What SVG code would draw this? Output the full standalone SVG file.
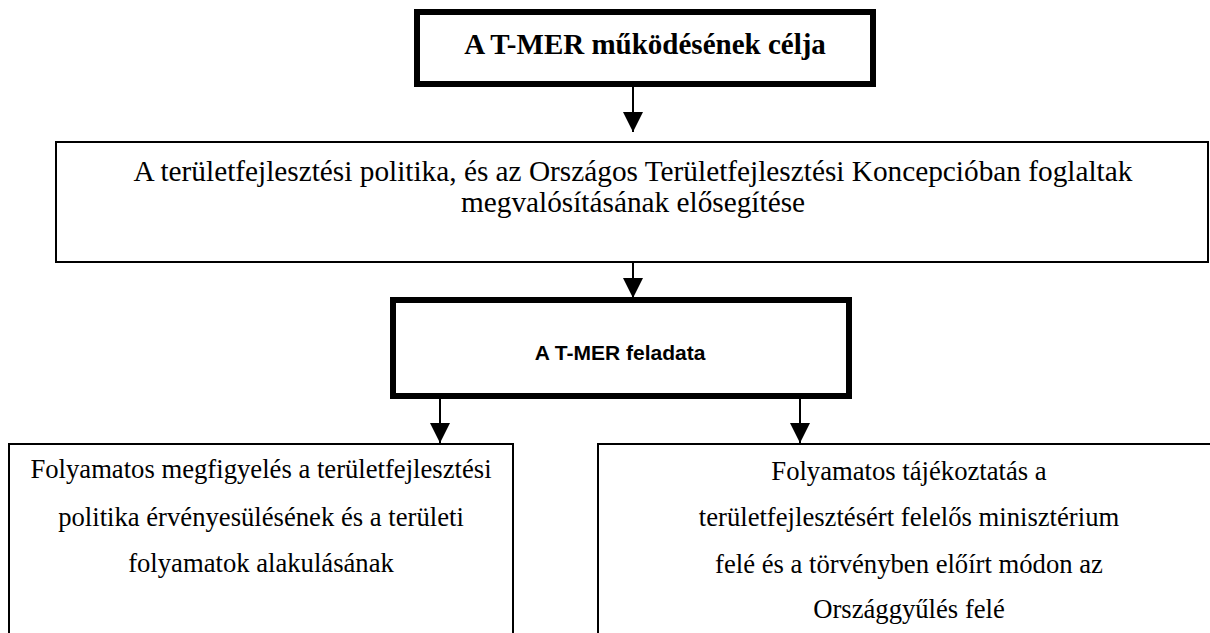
<svg xmlns="http://www.w3.org/2000/svg" width="1210" height="633" viewBox="0 0 1210 633">
<defs>
<style>
.thick{fill:#fff;stroke:#000;stroke-width:6}
.thin{fill:#fff;stroke:#000;stroke-width:2}
.tr{font-family:"Liberation Serif","Times New Roman",serif;fill:#000;text-anchor:middle}
.ar{font-family:"Liberation Sans",Arial,sans-serif;fill:#000;text-anchor:middle;font-weight:bold}
.conn line{stroke:#000;stroke-width:2}
</style>
<marker id="ah" viewBox="0 0 20 20" refX="20" refY="10" markerWidth="20" markerHeight="20" markerUnits="userSpaceOnUse" orient="auto">
<path d="M0,0 L20,10 L0,20 Z" fill="#000"/>
</marker>
</defs>
<rect width="1210" height="633" fill="#fff"/>
<g id="cel">
<rect class="thick" x="417" y="12" width="456" height="72"/>
<text class="tr" x="645" y="54" font-size="29" font-weight="bold">A T-MER működésének célja</text>
</g>
<g id="politika">
<rect class="thin" x="56" y="142" width="1152" height="120"/>
<text class="tr" x="633" y="181" font-size="29.3">A területfejlesztési politika, és az Országos Területfejlesztési Koncepcióban foglaltak</text>
<text class="tr" x="633" y="212" font-size="29.3">megvalósításának elősegítése</text>
</g>
<g id="feladata">
<rect class="thick" x="393" y="300" width="456" height="96"/>
<text class="ar" x="620" y="360" font-size="21">A T-MER feladata</text>
</g>
<g id="megfigyeles">
<rect class="thin" x="9" y="444" width="504" height="200"/>
<text class="tr" x="261" y="478" font-size="26.67">Folyamatos megfigyelés a területfejlesztési</text>
<text class="tr" x="261" y="526" font-size="26.67">politika érvényesülésének és a területi</text>
<text class="tr" x="261" y="572" font-size="26.67">folyamatok alakulásának</text>
</g>
<g id="tajekoztatas">
<rect class="thin" x="598" y="444" width="622" height="200"/>
<text class="tr" x="909" y="480" font-size="26.67">Folyamatos tájékoztatás a</text>
<text class="tr" x="909" y="526" font-size="26.67">területfejlesztésért felelős minisztérium</text>
<text class="tr" x="909" y="573" font-size="26.67">felé és a törvényben előírt módon az</text>
<text class="tr" x="909" y="618" font-size="26.67">Országgyűlés felé</text>
</g>
<g class="conn" id="connectors">
<line x1="633" y1="87" x2="633" y2="132" marker-end="url(#ah)"/>
<line x1="633" y1="262" x2="633" y2="298" marker-end="url(#ah)"/>
<line x1="440" y1="399" x2="440" y2="443" marker-end="url(#ah)"/>
<line x1="800" y1="399" x2="800" y2="443" marker-end="url(#ah)"/>
</g>
</svg>
